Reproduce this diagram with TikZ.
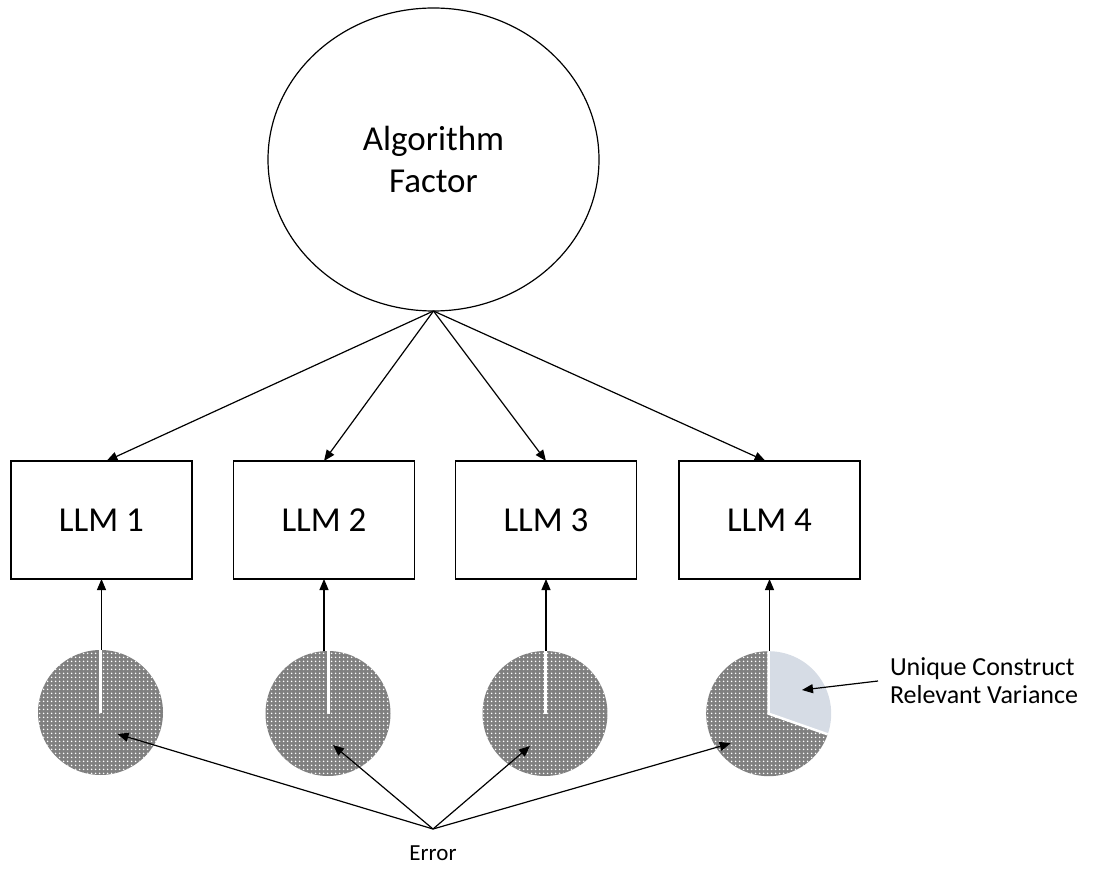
\documentclass[tikz,border=0pt]{standalone}
\usepackage{fontspec}
\setmainfont{Carlito}
\usetikzlibrary{arrows.meta,shapes.geometric,patterns.meta}
\definecolor{piegray}{RGB}{128,128,128}
\definecolor{pielight}{RGB}{214,220,229}
\begin{document}
\begin{tikzpicture}[x=1pt,y=-1pt,
  every node/.style={inner sep=0pt,outer sep=0pt},
  conn/.style={line width=1.2pt,-{Triangle[length=11pt,width=9pt]}},
  llmbox/.style={draw,line width=1.3pt,minimum width=181pt,minimum height=118pt,font=\fontsize{35}{40}\selectfont},
  piecirc/.style={circle,minimum size=125pt},
  darkfill/.style={fill=piegray,postaction={pattern={Dots[distance=4pt,radius=1pt]},pattern color=white}},
  gapline/.style={draw=white,line width=3pt}
]
\useasboundingbox (0,0) rectangle (1093,877);
% factor
\node[ellipse,draw,line width=1.2pt,minimum width=331pt,minimum height=303pt,align=center,
  font=\fontsize{35}{42}\selectfont] (af) at (433.5,159.5) {Algorithm\\Factor};
% boxes
\node[llmbox] (b1) at (101.5,520) {LLM 1};
\node[llmbox] (b2) at (324,520) {LLM 2};
\node[llmbox] (b3) at (546,520) {LLM 3};
\node[llmbox] (b4) at (769.5,520) {LLM 4};
% pies
\node[piecirc] (p1) at (100.5,712.5) {};
\node[piecirc] (p2) at (328,713.5) {};
\node[piecirc] (p3) at (545,713.5) {};
\node[piecirc] (p4) at (768.7,713.7) {};
\foreach \p in {p1,p2,p3}{
  \path[darkfill] (\p.center) circle[radius=62.5pt];
  \draw[gapline] (\p.center) -- (\p.north);
}
\path[darkfill] (p4.center) -- ++(90:62.5pt) arc[start angle=90,end angle=340.7,radius=62.5pt] -- cycle;
\path[fill=pielight] (p4.center) -- ++(340.7:62.5pt) arc[start angle=-19.3,end angle=90,radius=62.5pt] -- cycle;
\draw[white,line width=2.5pt] (p4.north) -- (p4.center) -- ++(-19.3:62.5pt);
% factor loadings
\coordinate (afb) at (af.south);
\draw[conn] (afb) -- ([xshift=5pt]b1.north);
\draw[conn] (afb) -- (b2.north);
\draw[conn] (afb) -- (b3.north);
\draw[conn] (afb) -- ([xshift=-4pt]b4.north);
% pies to boxes
\foreach \i in {1,2,3,4}{
  \draw[conn] (b\i.south |- p\i.north) -- (b\i.south);
}
% error
\node[font=\fontsize{23}{26}\selectfont] (err) at (433,853) {Error};
\coordinate (eo) at (433,829);
\coordinate (e1) at ([shift={(17,21.5)}]p1.center);
\coordinate (e2) at ([shift={(5,31.5)}]p2.center);
\coordinate (e3) at ([shift={(-15,32.5)}]p3.center);
\coordinate (e4) at ([shift={(-38,29.6)}]p4.center);
\foreach \i in {1,2,3,4}{\draw[conn] (eo) -- (e\i);}
% unique variance
\node[anchor=west,align=left,font=\fontsize{26}{28}\selectfont] (uv) at (890,681) {Unique Construct\\Relevant Variance};
\coordinate (us) at (878,681);
\coordinate (ut) at (802,690);
\draw[conn] (us) -- (ut);
\end{tikzpicture}
\end{document}
